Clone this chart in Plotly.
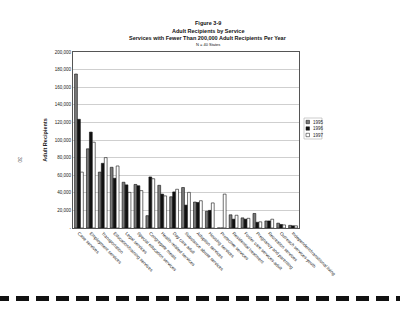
import plotly.graph_objects as go

services = [
    "Case services", "Employment services", "Transportation",
    "Education/training services", "Legal services", "Special education services",
    "Congregate meals", "Health-related services", "Day care adult",
    "Substance abuse services", "Adoption services", "Housing services",
    "Protective services", "Residential treatment", "Foster care services-adult",
    "Pregnancy and parenting", "Recreation services", "Outreach services-youth",
    "Independent/transitional living",
]
y1995 = [175000, 90000, 63500, 69000, 52000, 49500, 14000, 48500, 35500, 46000,
         29500, 19000, 0, 15000, 11500, 16500, 8000, 5500, 3000]
y1996 = [123500, 109000, 73500, 56500, 49000, 48000, 58000, 38500, 41000, 26000,
         29000, 20000, 0, 10000, 10000, 6500, 8000, 4000, 2500]
y1997 = [63500, 97500, 80000, 70500, 40500, 42500, 56000, 36500, 44000, 40500,
         31000, 28500, 38500, 14500, 11000, 7000, 10000, 3500, 2500]
years = ["1995", "1996", "1997"]
colors = ["#7a7a7a", "#111111", "#ffffff"]
tick_vals = list(range(0, 200001, 20000))
tick_text = ["-"] + [f"{v:,}" for v in tick_vals[1:]]

L, R, T, B = 73, 299, 52, 228
PW, PH = R - L, B - T


def px(x):
    return (x - L) / PW


def py(y):
    return (B - y) / PH


fig = go.Figure()
for name, vals, col in zip(years, [y1995, y1996, y1997], colors):
    fig.add_trace(go.Bar(x=services, y=vals, name=name, showlegend=False,
                         marker=dict(color=col, line=dict(color="#111111", width=0.6))))

fig.update_layout(
    width=400, height=310,
    margin=dict(l=L, r=400 - R, t=T, b=310 - B),
    paper_bgcolor="white", plot_bgcolor="white",
    barmode="group", bargap=0.25, bargroupgap=0.05,
    font=dict(family="Liberation Sans, Arial", size=5, color="#222"),
)
fig.update_xaxes(tickangle=45, tickfont=dict(size=4.5), showline=True,
                 linecolor="#555", linewidth=1, mirror=True, ticks="")
fig.update_yaxes(range=[0, 200000], tickvals=tick_vals, ticktext=tick_text,
                 showgrid=True, gridcolor="#cfcfcf", gridwidth=0.8,
                 showline=True, linecolor="#555", linewidth=1, mirror=True,
                 title=dict(text="<b>Adult Recipients</b>", font=dict(size=5.5), standoff=6),
                 tickfont=dict(size=4.5))

titles = [("<b>Figure 3-9</b>", 23, 5.5), ("<b>Adult Recipients by Service</b>", 31, 5.5),
          ("<b>Services with Fewer Than 200,000 Adult Recipients Per Year</b>", 38, 5.5),
          ("N = 40 States", 44.5, 4)]
for t, ypx, s in titles:
    fig.add_annotation(text=t, xref="paper", yref="paper", x=px(208), y=py(ypx),
                       yanchor="middle", xanchor="center", showarrow=False,
                       font=dict(size=s, color="#111"))
fig.add_annotation(text="30", xref="paper", yref="paper", x=px(15), y=py(160),
                   textangle=90, showarrow=False, font=dict(size=5, color="#555"))

# custom compact legend
fig.add_shape(type="rect", xref="paper", yref="paper", x0=px(304), x1=px(322),
              y0=py(139), y1=py(118), line=dict(color="#999", width=0.5),
              fillcolor="white")
for i, (name, col) in enumerate(zip(years, colors)):
    yc = 122 + i * 6.5
    fig.add_shape(type="rect", xref="paper", yref="paper", x0=px(306), x1=px(309.5),
                  y0=py(yc + 1.7), y1=py(yc - 1.7), fillcolor=col,
                  line=dict(color="#111", width=0.5))
    fig.add_annotation(text=name, xref="paper", yref="paper", x=px(310.5), y=py(yc),
                       xanchor="left", yanchor="middle", showarrow=False,
                       font=dict(size=4.5, color="#222"))

# scanned binder strip along the bottom
for i in range(21):
    x0 = -4 + i * 20
    fig.add_shape(type="rect", xref="paper", yref="paper",
                  x0=px(x0), x1=px(x0 + 13), y0=py(301), y1=py(296),
                  fillcolor="#111", line=dict(width=0))

fig.write_html("out.html")
